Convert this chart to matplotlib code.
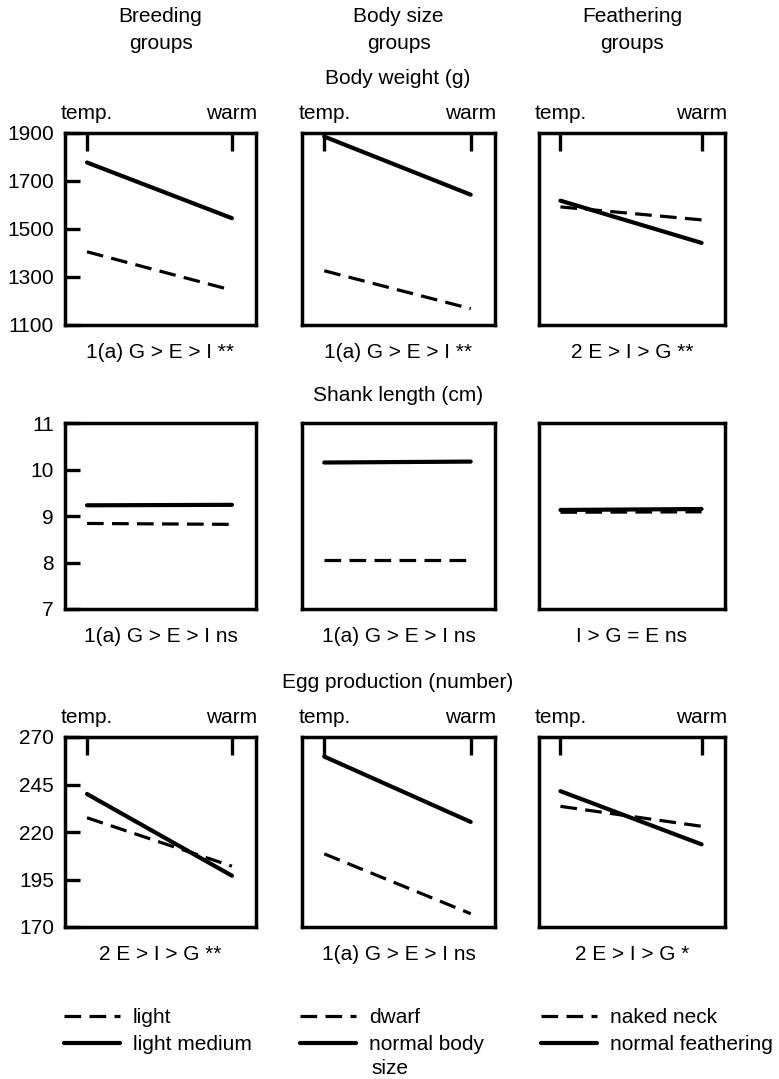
import matplotlib
matplotlib.use('Agg')
import matplotlib.pyplot as plt

plt.rcParams['font.family'] = ['Liberation Sans', 'DejaVu Sans']
plt.rcParams['lines.scale_dashes'] = False

# Data: (temp., warm) means per group
env_labels = ['temp.', 'warm']
env_x = [0, 1]

col_titles = ['Breeding\ngroups', 'Body size\ngroups', 'Feathering\ngroups']
row_titles = ['Body weight (g)', 'Shank length (cm)', 'Egg production (number)']

# body weight
bw_breed_light = [1405, 1245]
bw_breed_lightmed = [1777, 1545]
bw_size_dwarf = [1326, 1168]
bw_size_normal = [1885, 1643]
bw_feath_naked = [1592, 1538]
bw_feath_normal = [1618, 1442]

# shank length
sl_breed_light = [8.84, 8.82]
sl_breed_lightmed = [9.23, 9.24]
sl_size_dwarf = [8.05, 8.05]
sl_size_normal = [10.15, 10.17]
sl_feath_naked = [9.08, 9.09]
sl_feath_normal = [9.13, 9.15]

# egg production
egg_breed_light = [227.5, 202]
egg_breed_lightmed = [240, 197]
egg_size_dwarf = [208.5, 177]
egg_size_normal = [259.7, 225.3]
egg_feath_naked = [233.5, 223]
egg_feath_normal = [241.5, 213.5]

dashed_series = [
    [bw_breed_light, bw_size_dwarf, bw_feath_naked],
    [sl_breed_light, sl_size_dwarf, sl_feath_naked],
    [egg_breed_light, egg_size_dwarf, egg_feath_naked],
]
solid_series = [
    [bw_breed_lightmed, bw_size_normal, bw_feath_normal],
    [sl_breed_lightmed, sl_size_normal, sl_feath_normal],
    [egg_breed_lightmed, egg_size_normal, egg_feath_normal],
]

y_ticks = [
    [1100, 1300, 1500, 1700, 1900],
    [7, 8, 9, 10, 11],
    [170, 195, 220, 245, 270],
]

notes = [
    ['1(a) G > E > I **', '1(a) G > E > I **', '2 E > I > G **'],
    ['1(a) G > E > I ns', '1(a) G > E > I ns', 'I > G = E ns'],
    ['2 E > I > G **', '1(a) G > E > I ns', '2 E > I > G *'],
]

legend_labels = [
    ['light', 'light medium'],
    ['dwarf', 'normal body'],
    ['naked neck', 'normal feathering'],
]

# layout in pixels
W, H = 779, 1079
col_left = [65, 302, 539]
col_width = [191, 193, 186]
row_top = [133, 423, 737]
row_height = [192, 186, 190]
show_env = [True, False, True]

fig = plt.figure(figsize=(W / 100, H / 100), dpi=100)
fs = 15
dash = (0, (12, 6))

legend_handles = [[], [], []]

for r in range(3):
    for c in range(3):
        ax = fig.add_axes([col_left[c] / W, 1 - (row_top[r] + row_height[r]) / H,
                           col_width[c] / W, row_height[r] / H])
        ld, = ax.plot(env_x, dashed_series[r][c], color='black', lw=2.3,
                      linestyle=dash, solid_capstyle='round', zorder=3)
        ls, = ax.plot(env_x, solid_series[r][c], color='black', lw=3.0,
                      solid_capstyle='round', zorder=4)
        if r == 0:
            legend_handles[c] = [ld, ls]
        ax.set_xlim(-0.152, 1.166)
        ax.set_ylim(y_ticks[r][0], y_ticks[r][-1])
        for sp in ax.spines.values():
            sp.set_linewidth(2.5)

        # left ticks only on first column
        if c == 0:
            ax.set_yticks(y_ticks[r])
            ax.set_yticklabels([str(v) for v in y_ticks[r]])
            ax.tick_params(axis='y', direction='in', length=11, width=2.4,
                           pad=8, labelsize=fs)
        else:
            ax.set_yticks([])

        ax.xaxis.tick_top()
        if show_env[r]:
            ax.set_xticks(env_x)
            ax.set_xticklabels(env_labels)
            ax.tick_params(axis='x', direction='in', length=13, width=2.4,
                           pad=7, labelsize=fs)
        else:
            ax.set_xticks([])

        cx = (col_left[c] + col_width[c] / 2) / W
        fig.text(cx, 1 - (row_top[r] + row_height[r] + 27) / H, notes[r][c],
                 ha='center', va='center', fontsize=fs)

# column headers
for c in range(3):
    cx = (col_left[c] + col_width[c] / 2) / W
    fig.text(cx, 1 - 30 / H, col_titles[c], ha='center', va='center',
             fontsize=fs, linespacing=1.5)

# row titles
row_title_y = [78, 396, 682]
for r in range(3):
    fig.text(398 / W, 1 - row_title_y[r] / H, row_titles[r], ha='center',
             va='center', fontsize=fs)

# legends
leg_x = [64, 300, 541]
for c in range(3):
    fig.legend(legend_handles[c], legend_labels[c], loc='upper left',
               bbox_to_anchor=(leg_x[c] / W, 1 - 1008 / H), frameon=False,
               fontsize=fs, handlelength=2.7, handletextpad=0.6,
               labelspacing=0.4, borderpad=0, borderaxespad=0)
# second line of the "normal body size" label
fig.text(371 / W, 1 - 1069 / H, 'size', ha='left', va='center', fontsize=fs)

fig.savefig('out.png', dpi=100)
